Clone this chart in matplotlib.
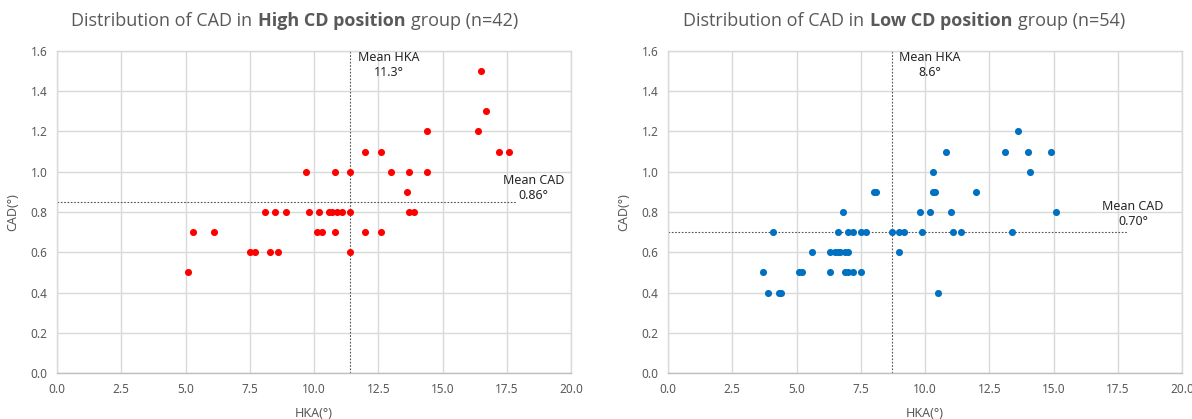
import matplotlib
matplotlib.use("Agg")
import matplotlib.pyplot as plt
import numpy as np
from matplotlib.offsetbox import TextArea, HPacker, AnnotationBbox

plt.rcParams['font.family'] = ['Noto Sans', 'DejaVu Sans']

# High CD position group
high_hka = [5.1, 5.3, 6.1, 7.5, 7.7, 8.3, 8.6,
            8.1, 8.5, 8.9, 9.8, 10.2, 10.6, 10.7, 10.9, 11.1, 11.4, 13.7, 13.9,
            10.1, 10.3, 10.8, 12.0, 12.6, 11.4,
            13.6, 9.7, 10.8, 11.4, 13.0, 13.7, 14.4,
            12.0, 12.6, 17.2, 17.6, 14.4, 16.4, 16.7, 16.5]
high_cad = [0.5, 0.7, 0.7, 0.6, 0.6, 0.6, 0.6,
            0.8, 0.8, 0.8, 0.8, 0.8, 0.8, 0.8, 0.8, 0.8, 0.8, 0.8, 0.8,
            0.7, 0.7, 0.7, 0.7, 0.7, 0.6,
            0.9, 1.0, 1.0, 1.0, 1.0, 1.0, 1.0,
            1.1, 1.1, 1.1, 1.1, 1.2, 1.2, 1.3, 1.5]

# Low CD position group
low_hka = [3.9, 4.3, 4.4, 10.5,
           3.7, 5.1, 5.2, 6.3, 6.9, 7.0, 7.2, 7.5,
           5.6, 6.3, 6.5, 6.6, 6.7, 6.9, 7.0, 9.0,
           4.1, 6.6, 7.0, 7.2, 7.5, 7.7, 8.7, 9.0, 9.2, 9.9, 11.1, 11.4, 13.4,
           6.8, 9.8, 10.2, 11.0, 15.1,
           8.0, 8.1, 10.3, 10.4, 12.0,
           10.3, 14.1,
           10.8, 13.1, 14.0, 14.9,
           13.6]
low_cad = [0.4, 0.4, 0.4, 0.4,
           0.5, 0.5, 0.5, 0.5, 0.5, 0.5, 0.5, 0.5,
           0.6, 0.6, 0.6, 0.6, 0.6, 0.6, 0.6, 0.6,
           0.7, 0.7, 0.7, 0.7, 0.7, 0.7, 0.7, 0.7, 0.7, 0.7, 0.7, 0.7, 0.7,
           0.8, 0.8, 0.8, 0.8, 0.8,
           0.9, 0.9, 0.9, 0.9, 0.9,
           1.0, 1.0,
           1.1, 1.1, 1.1, 1.1,
           1.2]

groups = ["High CD position", "Low CD position"]
counts = [42, 54]
mean_hka = [11.4, 8.7]
mean_hka_txt = ["11.3°", "8.6°"]
mean_cad = [0.85, 0.70]
mean_cad_txt = ["0.86°", "0.70°"]
colors = ["#ff0000", "#0070c0"]

grey = "#595959"
fig = plt.figure(figsize=(11.92, 4.19), dpi=100)
W, H = 1192, 419
axes = [fig.add_axes([57 / W, 46 / H, 514 / W, 322 / H]),
        fig.add_axes([668 / W, 46 / H, 514 / W, 322 / H])]

data = [(high_hka, high_cad), (low_hka, low_cad)]
title_x = [295 / W, 904 / W]
cad_lbl = [(18.55, 0.92), (18.1, 0.79)]
hka_lbl = [(12.9, 1.53), (10.2, 1.53)]

for i, ax in enumerate(axes):
    x, y = data[i]
    ax.set_xlim(0, 20)
    ax.set_ylim(0, 1.6)
    ax.set_xticks(np.arange(0, 20.01, 2.5))
    ax.set_yticks(np.arange(0, 1.61, 0.2))
    ax.xaxis.set_major_formatter(matplotlib.ticker.FormatStrFormatter('%.1f'))
    ax.yaxis.set_major_formatter(matplotlib.ticker.FormatStrFormatter('%.1f'))
    ax.tick_params(length=0, labelsize=8.5, labelcolor=grey, pad=7)
    ax.grid(True, color="#d9d9d9", linewidth=1)
    ax.set_axisbelow(True)
    for s in ax.spines.values():
        s.set_color("#d9d9d9")
        s.set_linewidth(1)
    ax.spines['bottom'].set_color("#bfbfbf")

    ax.scatter(x, y, s=26, color=colors[i], zorder=3, linewidths=0)

    # mean lines
    ax.plot([mean_hka[i], mean_hka[i]], [0, 1.6], color="#505050", lw=0.8,
            ls=(0, (1.5, 1.5)), zorder=2)
    ax.plot([0, 17.85], [mean_cad[i], mean_cad[i]], color="#505050", lw=0.8,
            ls=(0, (1.5, 1.5)), zorder=2)
    ax.text(hka_lbl[i][0], hka_lbl[i][1], "Mean HKA\n" + mean_hka_txt[i],
            ha="center", va="center", fontsize=9, color="#262626", linespacing=1.2)
    ax.text(cad_lbl[i][0], cad_lbl[i][1], "Mean CAD\n" + mean_cad_txt[i],
            ha="center", va="center", fontsize=9, color="#262626", linespacing=1.2)

    ax.set_xlabel("HKA(°)", fontsize=9, color=grey, labelpad=8)
    ax.set_ylabel("CAD(°)", fontsize=9, color=grey, labelpad=8)

    # title with bold group name
    props = dict(size=13, color=grey, family=['Open Sans', 'DejaVu Sans'])
    parts = [TextArea("Distribution of CAD in", textprops=props),
             TextArea(groups[i], textprops=dict(props, weight="bold")),
             TextArea("group (n=%d)" % counts[i], textprops=props)]
    box = HPacker(children=parts, align="baseline", pad=0, sep=4)
    ab = AnnotationBbox(box, (title_x[i], 1 - 21 / H), xycoords="figure fraction",
                        frameon=False, box_alignment=(0.5, 0.5))
    fig.add_artist(ab)

fig.savefig("out.png", dpi=100)
